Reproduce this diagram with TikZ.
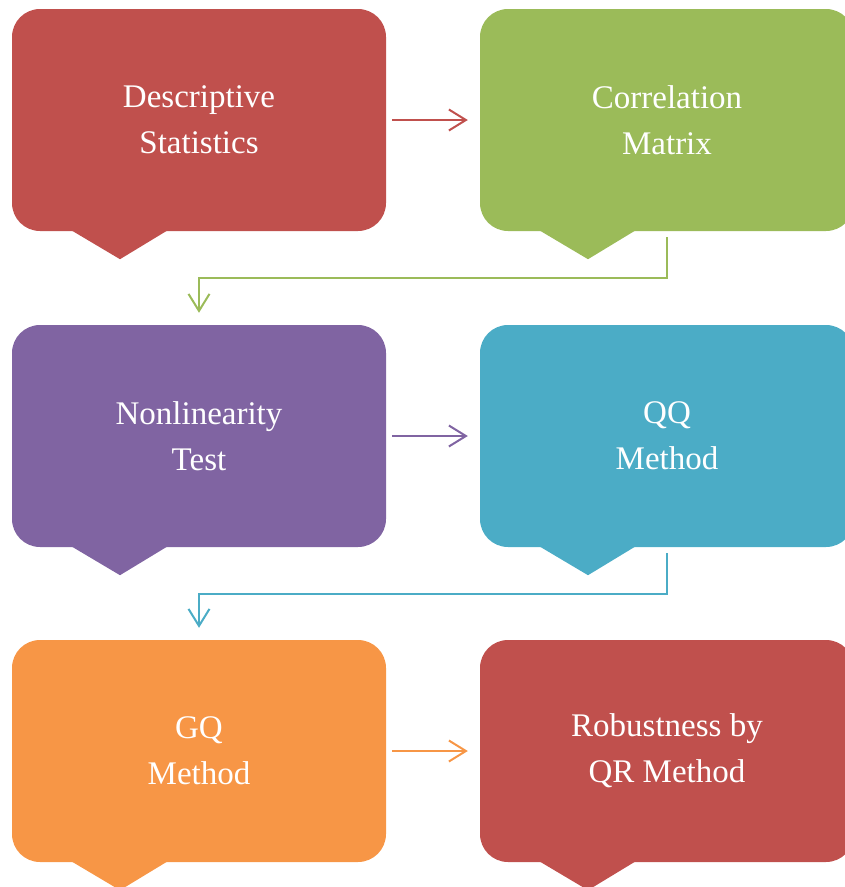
\documentclass[tikz,border=0pt]{standalone}
\usepackage{fontspec}
\setmainfont{Liberation Serif}
\usetikzlibrary{arrows.meta,calc}
\definecolor{cred}{HTML}{C0504D}
\definecolor{cgreen}{HTML}{9BBB59}
\definecolor{cpurple}{HTML}{8064A2}
\definecolor{cblue}{HTML}{4BACC6}
\definecolor{corange}{HTML}{F79646}
\begin{document}
\begin{tikzpicture}[x=1pt,y=-1pt,
  callout/.style={rectangle,rounded corners=28pt,minimum width=374pt,minimum height=222pt,
    inner sep=0pt,fill=#1,text=white,align=center,
    font=\fontsize{33}{46}\selectfont},
  flow/.style={draw=#1,line width=2pt,
    -{Straight Barb[length=17pt,width=21pt,line width=2pt]}}]
\clip (0,0) rectangle (845,887);
\useasboundingbox (0,0) rectangle (845,887);

% boxes
\node[callout=cred]    (ds) at (199,120) {Descriptive\\Statistics};
\node[callout=cgreen]  (cm) at (667,120) {Correlation\\Matrix};
\node[callout=cpurple] (nt) at (199,436) {Nonlinearity\\Test};
\node[callout=cblue]   (qq) at (667,436) {QQ\\Method};
\node[callout=corange] (gq) at (199,751) {GQ\\Method};
\node[callout=cred]    (qr) at (667,751) {Robustness by\\QR Method};

% downward pointers under each box
\foreach \n/\c in {ds/cred,cm/cgreen,nt/cpurple,qq/cblue,gq/corange,qr/cred}{
  \fill[\c] ($(\n.south)+(-127,-0.5)$) -- ($(\n.south)+(-79,28)$)
            -- ($(\n.south)+(-32,-0.5)$) -- cycle;
}

% horizontal links
\draw[flow=cred,shorten <=6pt,shorten >=12pt] (ds.east) -- (cm.west);
\draw[flow=cpurple,shorten <=6pt,shorten >=12pt] (nt.east) -- (qq.west);
\draw[flow=corange,shorten <=6pt,shorten >=12pt] (gq.east) -- (qr.west);

% row-to-row links
\coordinate (m1) at ($(cm.south)+(0,47)$);
\coordinate (m2) at ($(qq.south)+(0,47)$);
\draw[flow=cgreen,shorten <=6pt,shorten >=12pt] (cm.south) -- (m1) -| (nt.north);
\draw[flow=cblue,shorten <=6pt,shorten >=12pt] (qq.south) -- (m2) -| (gq.north);
\end{tikzpicture}
\end{document}
